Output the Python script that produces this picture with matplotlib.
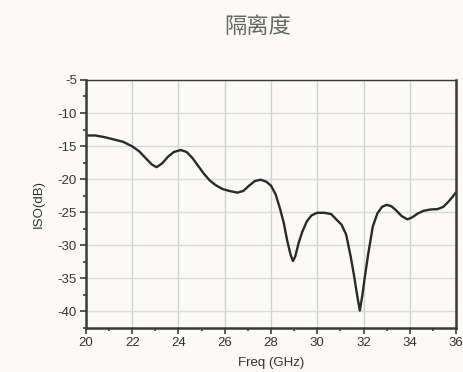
import matplotlib
matplotlib.use("Agg")
import matplotlib.pyplot as plt
from matplotlib.ticker import MultipleLocator

plt.rcParams["axes.unicode_minus"] = False

freq = [20.0, 20.4, 20.8, 21.2, 21.6, 22.0, 22.3, 22.6, 22.85, 23.05, 23.3, 23.55,
        23.8, 24.1, 24.35, 24.6, 24.85, 25.1, 25.35, 25.6, 25.9, 26.2, 26.55, 26.8,
        27.05, 27.3, 27.55, 27.8, 28.0, 28.2, 28.4, 28.55, 28.7, 28.85, 28.95, 29.05,
        29.2, 29.35, 29.55, 29.75, 30.0, 30.3, 30.6, 30.85, 31.05, 31.25, 31.45, 31.6,
        31.72, 31.84, 31.95, 32.05, 32.2, 32.4, 32.6, 32.8, 33.0, 33.2, 33.4, 33.65,
        33.9, 34.1, 34.35, 34.6, 34.9, 35.2, 35.45, 35.65, 35.85, 36.0]
iso = [-13.4, -13.4, -13.65, -14.0, -14.35, -15.05, -15.8, -16.9, -17.8, -18.2, -17.6, -16.6,
       -15.9, -15.6, -15.9, -16.8, -18.0, -19.2, -20.2, -20.9, -21.5, -21.8, -22.05, -21.8,
       -21.0, -20.3, -20.1, -20.4, -21.0, -22.3, -24.6, -26.6, -29.3, -31.5, -32.4, -31.7,
       -29.6, -28.0, -26.4, -25.5, -25.1, -25.1, -25.3, -26.2, -26.9, -28.4, -31.8, -34.8,
       -37.5, -39.9, -37.6, -35.0, -31.4, -27.2, -25.2, -24.2, -23.9, -24.1, -24.7, -25.6,
       -26.1, -25.8, -25.2, -24.8, -24.6, -24.55, -24.2, -23.5, -22.7, -22.0]

title = "隔离度"
xlabel = "Freq (GHz)"
ylabel = "ISO(dB)"

bg = "#fcfaf7"
fig = plt.figure(figsize=(4.64, 3.72), dpi=100, facecolor=bg)
ax = fig.add_axes([0.1853, 0.119, 0.7975, 0.666])
ax.set_facecolor(bg)

ax.plot(freq, iso, color="#2a2a2a", lw=1.7, solid_joinstyle="round", solid_capstyle="round")

ax.set_xlim(20, 36)
ax.set_ylim(-42.5, -5)
ax.xaxis.set_major_locator(MultipleLocator(2))
ax.xaxis.set_minor_locator(MultipleLocator(1))
ax.yaxis.set_major_locator(MultipleLocator(5))
ax.yaxis.set_minor_locator(MultipleLocator(2.5))

ax.grid(True, which="major", axis="x", color="#cdd1d8", lw=1.0)
ax.grid(True, which="major", axis="y", color="#d9d9d9", lw=1.0)
ax.set_axisbelow(True)

for s in ["left", "bottom", "right"]:
    ax.spines[s].set_linewidth(1.8)
    ax.spines[s].set_color("#3a3a3a")
ax.spines["top"].set_linewidth(1.0)
ax.spines["top"].set_color("#3a3a3a")

ax.tick_params(which="major", direction="out", length=4, width=1.2, color="#3a3a3a",
               labelsize=9.5, labelcolor="#333333", pad=2.5)
ax.tick_params(which="minor", direction="out", length=2.5, width=1.2, color="#3a3a3a")
for lab in ax.get_xticklabels() + ax.get_yticklabels():
    lab.set_family("Liberation Sans")

ax.set_xlabel(xlabel, fontsize=9.5, family="Liberation Sans", color="#333333", labelpad=6)
ax.set_ylabel(ylabel, fontsize=9.5, family="Liberation Sans", color="#333333", labelpad=9)

fig.text(0.556, 0.93, title, ha="center", va="center", fontsize=16,
         family=["Noto Sans CJK SC", "DejaVu Sans"], weight="light", color="#666666")

fig.savefig("out.png", dpi=100, facecolor=bg)
